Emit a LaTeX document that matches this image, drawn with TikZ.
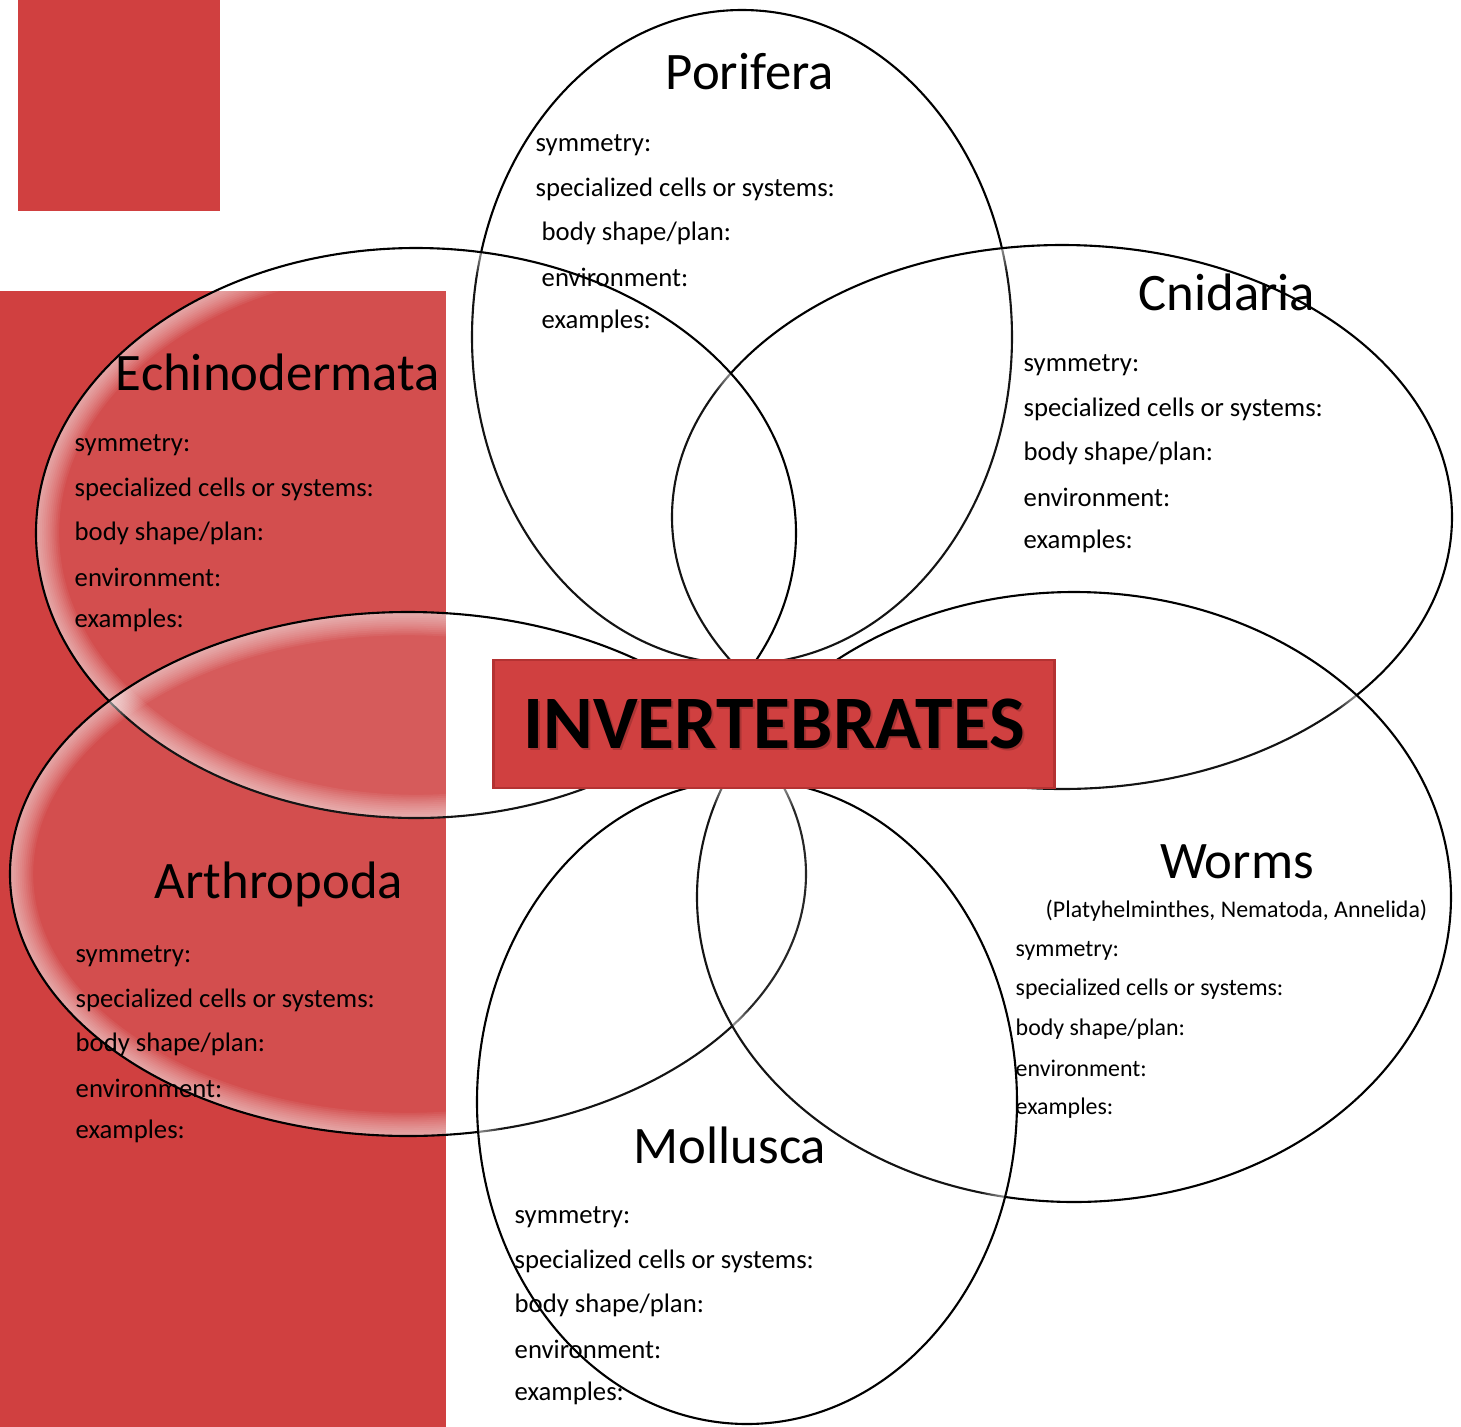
\documentclass[tikz,border=0pt]{standalone}
\usepackage{fontspec}
\setmainfont{Carlito}
\definecolor{brick}{RGB}{208,64,64}
\definecolor{brickline}{RGB}{180,50,50}
\tikzset{
  lobe/.style={draw=black, line width=0.6pt, fill=white, fill opacity=0.08},
  glow/.style={white, opacity=0.06},
  group/.style={inner sep=0pt, font=\fontsize{15}{18}\selectfont},
  trait/.style={anchor=west, inner sep=0pt, yshift=-0.25mm, font=\fontsize{7.6}{9}\selectfont},
  wtrait/.style={anchor=west, inner sep=0pt, yshift=-0.25mm, font=\fontsize{6.8}{8}\selectfont},
  titlebox/.style={fill=brick, draw=brickline, line width=0.8pt, minimum width=56.1mm, minimum height=12.8mm, inner sep=0pt},
}
\begin{document}
\begin{tikzpicture}[x=0.1mm, y=-0.1mm]
  \useasboundingbox (0,0) rectangle (1461,1427);

  % red backdrop
  \fill[brick] (18,0) rectangle (220,211);
  \fill[brick] (0,291) rectangle (446,1427);

  % the six lobes: centre / x radius / y radius
  \foreach \c/\rx/\ry in {{742,337}/270/327, {1062,517}/390/272, {416,533}/380/285,
                          {408,874}/398/262, {1074,897}/377/305, {747,1102}/270/322} {
    \begin{scope}
      \clip (\c) ellipse [x radius=\rx, y radius=\ry];
      \fill[white, opacity=0.08] (\c) ellipse [x radius=\rx, y radius=\ry];
      \foreach \k in {1,...,12}
        \draw[glow, line width=\k*1.1pt] (\c) ellipse [x radius=\rx, y radius=\ry];
    \end{scope}
    \draw[black, line width=0.6pt] (\c) ellipse [x radius=\rx, y radius=\ry];
  }

  % centre box
  \node[titlebox] (inv) at (774,724) {};
  \node[font=\fontsize{21.5}{24}\bfseries, text=black!50!brick, opacity=0.35] at (776,726) {INVERTEBRATES};
  \node[font=\fontsize{21.5}{24}\bfseries] (invtxt) at (inv) {INVERTEBRATES};

  % Porifera
  \node[group] (por) at (750,72) {Porifera};
  \node[trait] (por1) at (535,143) {symmetry:};
  \node[trait] (por2) at (535,187) {specialized cells or systems:};
  \node[trait] (por3) at (541,231) {body shape/plan:};
  \node[trait] (por4) at (541,275) {environment:};
  \node[trait] (por5) at (541,319) {examples:};

  % Cnidaria
  \node[group] (cni) at (1227,292) {Cnidaria};
  \node[trait] (cni1) at (1023,363) {symmetry:};
  \node[trait] (cni2) at (1023,407) {specialized cells or systems:};
  \node[trait] (cni3) at (1023,451) {body shape/plan:};
  \node[trait] (cni4) at (1023,495) {environment:};
  \node[trait] (cni5) at (1023,539) {examples:};

  % Echinodermata
  \node[group] (ech) at (278,372) {Echinodermata};
  \node[trait] (ech1) at (74,443) {symmetry:};
  \node[trait] (ech2) at (74,487) {specialized cells or systems:};
  \node[trait] (ech3) at (74,531) {body shape/plan:};
  \node[trait] (ech4) at (74,575) {environment:};
  \node[trait] (ech5) at (74,618) {examples:};

  % Arthropoda
  \node[group] (art) at (279,884) {Arthropoda};
  \node[trait] (art1) at (75,954) {symmetry:};
  \node[trait] (art2) at (75,998) {specialized cells or systems:};
  \node[trait] (art3) at (75,1042) {body shape/plan:};
  \node[trait] (art4) at (75,1086) {environment:};
  \node[trait] (art5) at (75,1129) {examples:};

  % Worms
  \node[group] (wor) at (1237,862) {Worms};
  \node[wtrait] (wor0) at (1045,908) {(Platyhelminthes, Nematoda, Annelida)};
  \node[wtrait] (wor1) at (1015,948) {symmetry:};
  \node[wtrait] (wor2) at (1015,987) {specialized cells or systems:};
  \node[wtrait] (wor3) at (1015,1027) {body shape/plan:};
  \node[wtrait] (wor4) at (1015,1066) {environment:};
  \node[wtrait] (wor5) at (1015,1106) {examples:};

  % Mollusca
  \node[group] (mol) at (730,1145) {Mollusca};
  \node[trait] (mol1) at (514,1215) {symmetry:};
  \node[trait] (mol2) at (514,1259) {specialized cells or systems:};
  \node[trait] (mol3) at (514,1303) {body shape/plan:};
  \node[trait] (mol4) at (514,1347) {environment:};
  \node[trait] (mol5) at (514,1391) {examples:};
\end{tikzpicture}
\end{document}
